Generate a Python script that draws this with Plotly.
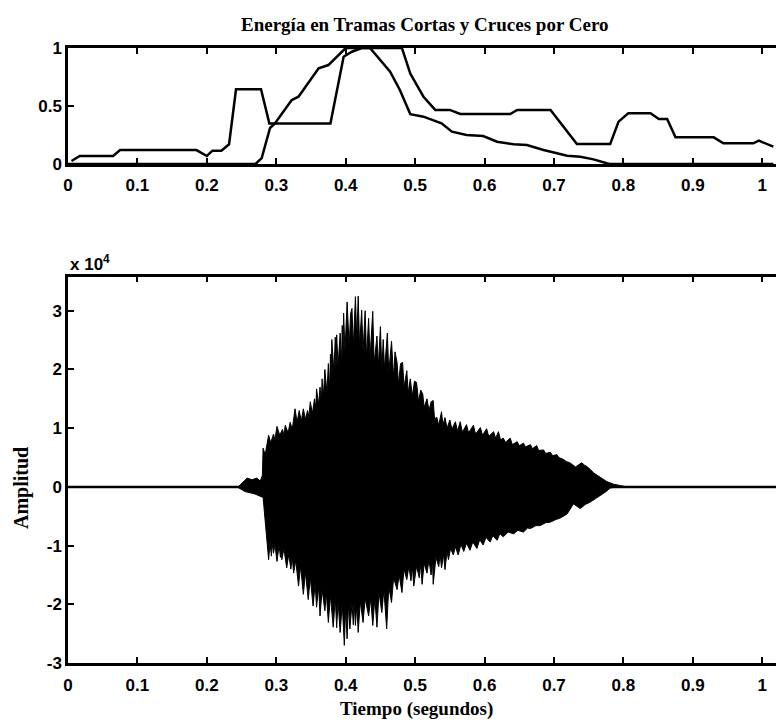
import plotly.graph_objects as go

# ---------------- data ----------------
# top panel: normalised short-time energy and zero-crossing rate
energy_t = [0.000, 0.270, 0.279, 0.291, 0.298, 0.322, 0.332, 0.361, 0.375, 0.400, 0.435,
            0.450, 0.464, 0.478, 0.493, 0.512, 0.526, 0.538, 0.553, 0.574, 0.598, 0.618,
            0.642, 0.661, 0.685, 0.719, 0.738, 0.757, 0.776, 0.780, 1.016]
energy_v = [0.000, 0.000, 0.050, 0.310, 0.350, 0.550, 0.580, 0.825, 0.853, 1.000, 1.000,
            0.897, 0.796, 0.638, 0.430, 0.408, 0.380, 0.351, 0.279, 0.250, 0.241, 0.192,
            0.170, 0.164, 0.121, 0.072, 0.063, 0.040, 0.006, 0.000, 0.000]

zcr_t = [0.005, 0.017, 0.065, 0.075, 0.185, 0.200, 0.208, 0.221, 0.232, 0.242, 0.278,
         0.290, 0.378, 0.397, 0.409, 0.423, 0.481, 0.493, 0.512, 0.529, 0.550, 0.565,
         0.637, 0.647, 0.695, 0.733, 0.781, 0.793, 0.807, 0.839, 0.851, 0.863, 0.875,
         0.930, 0.944, 0.987, 0.995, 1.002, 1.016]
zcr_v = [0.026, 0.069, 0.069, 0.120, 0.120, 0.069, 0.115, 0.115, 0.170, 0.644, 0.644,
         0.350, 0.350, 0.925, 0.968, 1.000, 1.000, 0.780, 0.580, 0.466, 0.466, 0.431,
         0.431, 0.466, 0.466, 0.172, 0.172, 0.365, 0.437, 0.437, 0.388, 0.388, 0.230,
         0.230, 0.178, 0.178, 0.201, 0.184, 0.149]

# bottom panel: waveform envelope (x 10^4), upper peaks/valleys
upper_t = [0.000, 0.245, 0.252, 0.258, 0.265, 0.272, 0.277, 0.280, 0.281, 0.284,
           0.289, 0.292, 0.296, 0.298, 0.301, 0.305, 0.309, 0.311, 0.313, 0.317,
           0.320, 0.323, 0.327, 0.330, 0.333, 0.336, 0.339, 0.342, 0.345, 0.347,
           0.349, 0.352, 0.355, 0.357, 0.358, 0.361, 0.363, 0.365, 0.366, 0.368,
           0.370, 0.373, 0.375, 0.377, 0.378, 0.379, 0.380, 0.383, 0.385, 0.386,
           0.387, 0.389, 0.392, 0.394, 0.395, 0.396, 0.397, 0.399, 0.402, 0.405,
           0.407, 0.409, 0.411, 0.414, 0.416, 0.418, 0.420, 0.423, 0.425, 0.428,
           0.430, 0.433, 0.435, 0.439, 0.441, 0.445, 0.447, 0.450, 0.452, 0.454,
           0.456, 0.460, 0.462, 0.466, 0.469, 0.471, 0.474, 0.476, 0.479, 0.482,
           0.484, 0.488, 0.490, 0.493, 0.496, 0.499, 0.502, 0.505, 0.508, 0.511,
           0.513, 0.517, 0.520, 0.523, 0.526, 0.528, 0.531, 0.534, 0.538, 0.540,
           0.543, 0.546, 0.550, 0.553, 0.558, 0.561, 0.565, 0.568, 0.574, 0.577,
           0.584, 0.587, 0.594, 0.597, 0.603, 0.606, 0.613, 0.616, 0.620, 0.623,
           0.627, 0.630, 0.637, 0.640, 0.647, 0.650, 0.656, 0.659, 0.666, 0.669,
           0.675, 0.678, 0.685, 0.688, 0.695, 0.698, 0.704, 0.707, 0.714, 0.718,
           0.723, 0.731, 0.736, 0.740, 0.744, 0.747, 0.752, 0.757, 0.762, 0.767,
           0.776, 0.786, 0.795, 0.805, 1.040]
upper_v = [0.00, 0.00, 0.08, 0.15, 0.12, 0.15, 0.10, 0.20, 0.66, 0.55,
           0.88, 0.75, 0.90, 0.80, 1.03, 0.88, 0.98, 0.88, 1.05, 0.92,
           1.10, 0.98, 1.33, 1.10, 1.30, 1.12, 1.33, 1.15, 1.30, 1.20,
           1.45, 1.25, 1.50, 1.35, 1.67, 1.40, 1.70, 1.45, 1.84, 1.55,
           2.00, 1.60, 2.10, 1.65, 2.26, 1.90, 2.51, 1.95, 2.55, 2.00,
           2.59, 2.05, 2.62, 2.10, 2.75, 2.20, 2.96, 2.30, 3.15, 2.40,
           2.95, 3.04, 2.40, 3.24, 2.50, 3.25, 2.40, 3.01, 2.30, 3.00,
           2.20, 2.87, 2.20, 2.99, 2.10, 2.57, 2.05, 2.73, 2.00, 2.51,
           2.00, 2.62, 1.95, 2.48, 1.85, 2.30, 2.12, 1.75, 2.10, 2.12,
           1.70, 1.98, 1.60, 1.84, 1.55, 1.80, 1.78, 1.45, 1.65, 1.58,
           1.35, 1.50, 1.30, 1.45, 1.47, 1.15, 1.19, 1.05, 1.28, 1.05,
           1.18, 1.00, 1.14, 0.98, 1.11, 0.95, 1.11, 0.93, 1.06, 0.92,
           1.05, 0.90, 1.01, 0.88, 0.99, 0.86, 0.94, 0.83, 0.94, 0.80,
           0.83, 0.76, 0.83, 0.72, 0.77, 0.70, 0.745, 0.68, 0.72, 0.65,
           0.705, 0.62, 0.63, 0.57, 0.59, 0.53, 0.55, 0.50, 0.465, 0.43,
           0.41, 0.34, 0.38, 0.41, 0.37, 0.35, 0.30, 0.24, 0.20, 0.16,
           0.09, 0.045, 0.02, 0.00, 0.00]

# lower peaks/valleys (x 10^4)
lower_t = [0.000, 0.245, 0.255, 0.269, 0.281, 0.284, 0.289, 0.291, 0.293, 0.294,
           0.296, 0.298, 0.301, 0.304, 0.306, 0.307, 0.308, 0.311, 0.315, 0.318,
           0.321, 0.323, 0.325, 0.328, 0.332, 0.335, 0.339, 0.342, 0.346, 0.349,
           0.353, 0.356, 0.358, 0.361, 0.363, 0.366, 0.370, 0.372, 0.375, 0.378,
           0.382, 0.385, 0.387, 0.389, 0.392, 0.395, 0.398, 0.400, 0.402, 0.404,
           0.406, 0.409, 0.411, 0.412, 0.414, 0.416, 0.418, 0.421, 0.425, 0.428,
           0.433, 0.436, 0.439, 0.442, 0.445, 0.448, 0.452, 0.455, 0.459, 0.462,
           0.466, 0.469, 0.474, 0.477, 0.481, 0.484, 0.488, 0.491, 0.494, 0.496,
           0.498, 0.502, 0.506, 0.508, 0.510, 0.513, 0.517, 0.520, 0.523, 0.525,
           0.526, 0.530, 0.534, 0.536, 0.538, 0.541, 0.543, 0.546, 0.548, 0.551,
           0.555, 0.558, 0.562, 0.566, 0.570, 0.574, 0.579, 0.583, 0.589, 0.593,
           0.598, 0.602, 0.608, 0.612, 0.618, 0.622, 0.627, 0.634, 0.642, 0.648,
           0.656, 0.662, 0.666, 0.674, 0.680, 0.688, 0.695, 0.702, 0.709, 0.715,
           0.719, 0.728, 0.734, 0.738, 0.745, 0.752, 0.760, 0.767, 0.775, 0.781,
           0.790, 1.040]
lower_v = [0.00, -0.01, -0.08, -0.12, -0.18, -0.57, -1.24, -0.95, -1.18, -0.95,
           -1.13, -0.98, -1.27, -1.00, -1.20, -1.02, -1.24, -1.05, -1.38, -1.15,
           -1.40, -1.20, -1.47, -1.25, -1.69, -1.35, -1.83, -1.45, -1.92, -1.55,
           -2.03, -1.65, -2.05, -1.70, -2.20, -1.75, -2.11, -1.80, -2.31, -1.85,
           -2.39, -1.90, -2.40, -1.95, -2.48, -2.00, -2.70, -2.05, -2.59, -2.00,
           -2.42, -2.00, -2.35, -1.95, -2.36, -2.00, -2.48, -1.95, -2.31, -1.90,
           -2.20, -1.90, -2.36, -1.90, -2.39, -1.80, -2.14, -1.75, -2.42, -1.70,
           -1.97, -1.55, -1.75, -1.50, -1.80, -1.40, -1.58, -1.35, -1.60, -1.35,
           -1.69, -1.35, -1.55, -1.30, -1.66, -1.30, -1.47, -1.25, -1.50, -1.25,
           -1.66, -1.20, -1.36, -1.15, -1.38, -1.15, -1.41, -1.10, -1.24, -1.05,
           -1.16, -1.02, -1.16, -0.98, -1.10, -0.96, -1.08, -0.94, -1.05, -0.90,
           -0.99, -0.86, -0.94, -0.83, -0.91, -0.80, -0.85, -0.77, -0.80, -0.74,
           -0.77, -0.70, -0.71, -0.66, -0.66, -0.61, -0.60, -0.56, -0.53, -0.49,
           -0.46, -0.29, -0.33, -0.37, -0.30, -0.26, -0.20, -0.15, -0.08, -0.02,
           0.00, 0.00]

x_ticks = [0, 0.1, 0.2, 0.3, 0.4, 0.5, 0.6, 0.7, 0.8, 0.9, 1]
x_ticklabels = ["0", "0.1", "0.2", "0.3", "0.4", "0.5", "0.6", "0.7", "0.8", "0.9", "1"]
top_y_ticks = [0, 0.5, 1]
top_y_ticklabels = ["0", "0.5", "1"]
bot_y_ticks = [-3, -2, -1, 0, 1, 2, 3]
bot_y_ticklabels = ["-3", "-2", "-1", "0", "1", "2", "3"]

title_text = "Energía en Tramas Cortas y Cruces por Cero"
xlabel_text = "Tiempo (segundos)"
ylabel_text = "Amplitud"

# ---------------- figure ----------------
# the page body has an 8 px margin, so the figure is 8 px smaller and all
# reference pixel positions below are shifted by OFF
OFF = 8
W, H = 784 - OFF, 723 - OFF
L = 68 - OFF
SANS = "Liberation Sans, Arial, sans-serif"
SERIF = "Liberation Serif, Times New Roman, serif"
TICKFONT = dict(family=SANS, size=17, color="black", weight="bold")


def px_y(ref_y):
    return 1 - (ref_y - OFF) / H


def px_x(ref_x):
    return (ref_x - OFF - L) / (W - L)


fig = go.Figure()

# top panel
fig.add_trace(go.Scatter(x=energy_t, y=energy_v, mode="lines",
                         line=dict(color="black", width=2.5), xaxis="x2", yaxis="y2",
                         showlegend=False, hoverinfo="skip"))
fig.add_trace(go.Scatter(x=zcr_t, y=zcr_v, mode="lines",
                         line=dict(color="black", width=2.5), xaxis="x2", yaxis="y2",
                         showlegend=False, hoverinfo="skip"))

# bottom panel: waveform
fig.add_trace(go.Scatter(x=upper_t, y=upper_v, mode="lines", fill="tozeroy",
                         fillcolor="black", line=dict(color="black", width=1),
                         xaxis="x", yaxis="y", showlegend=False, hoverinfo="skip"))
fig.add_trace(go.Scatter(x=lower_t, y=lower_v, mode="lines", fill="tozeroy",
                         fillcolor="black", line=dict(color="black", width=1),
                         xaxis="x", yaxis="y", showlegend=False, hoverinfo="skip"))
fig.add_trace(go.Scatter(x=[x_ticks[0], upper_t[-1]], y=[0, 0], mode="lines",
                         line=dict(color="black", width=2.5),
                         xaxis="x", yaxis="y", showlegend=False, hoverinfo="skip"))

XR = [0, 1.0313]
axis_common = dict(showline=True, linecolor="black", linewidth=2.5, ticks="inside",
                   ticklen=6, tickwidth=2, tickcolor="black", showgrid=False,
                   zeroline=False, tickfont=TICKFONT, automargin=False)

fig.update_layout(
    template="none",
    width=W, height=H,
    margin=dict(l=L, r=0, t=0, b=0, pad=0),
    paper_bgcolor="white", plot_bgcolor="white",
    xaxis=dict(domain=[0, 1], range=XR, tickvals=x_ticks, ticktext=x_ticklabels,
               mirror="ticks", anchor="y", ticklabelstandoff=5, **axis_common),
    yaxis=dict(domain=[px_y(663), px_y(276.7)], range=[-3, 3.58],
               tickvals=bot_y_ticks, ticktext=bot_y_ticklabels, anchor="x", **axis_common),
    xaxis2=dict(domain=[0, 1], range=XR, tickvals=x_ticks, ticktext=x_ticklabels,
                mirror="ticks", anchor="y2", ticklabelstandoff=4, **axis_common),
    yaxis2=dict(domain=[px_y(164), px_y(48)], range=[0, 1],
                tickvals=top_y_ticks, ticktext=top_y_ticklabels, anchor="x2", **axis_common),
    annotations=[
        dict(text=title_text, x=px_x(424), xref="paper", y=px_y(24),
             yref="paper", showarrow=False, xanchor="center", yanchor="middle",
             font=dict(family=SERIF, size=19, color="black", weight="bold")),
        dict(text=xlabel_text, x=px_x(416), xref="paper", y=px_y(709),
             yref="paper", showarrow=False, xanchor="center", yanchor="middle",
             font=dict(family=SERIF, size=19, color="black", weight="bold")),
        dict(text=ylabel_text, x=px_x(21), xref="paper", y=px_y(488),
             yref="paper", showarrow=False, xanchor="center", yanchor="middle",
             textangle=-90,
             font=dict(family=SERIF, size=20, color="black", weight="bold")),
        dict(text="x 10<sup>4</sup>", x=0, xref="paper", y=px_y(263), yref="paper",
             showarrow=False, xanchor="left", yanchor="middle",
             font=dict(family=SANS, size=17, color="black", weight="bold")),
    ],
)

fig.write_html("out.html")
